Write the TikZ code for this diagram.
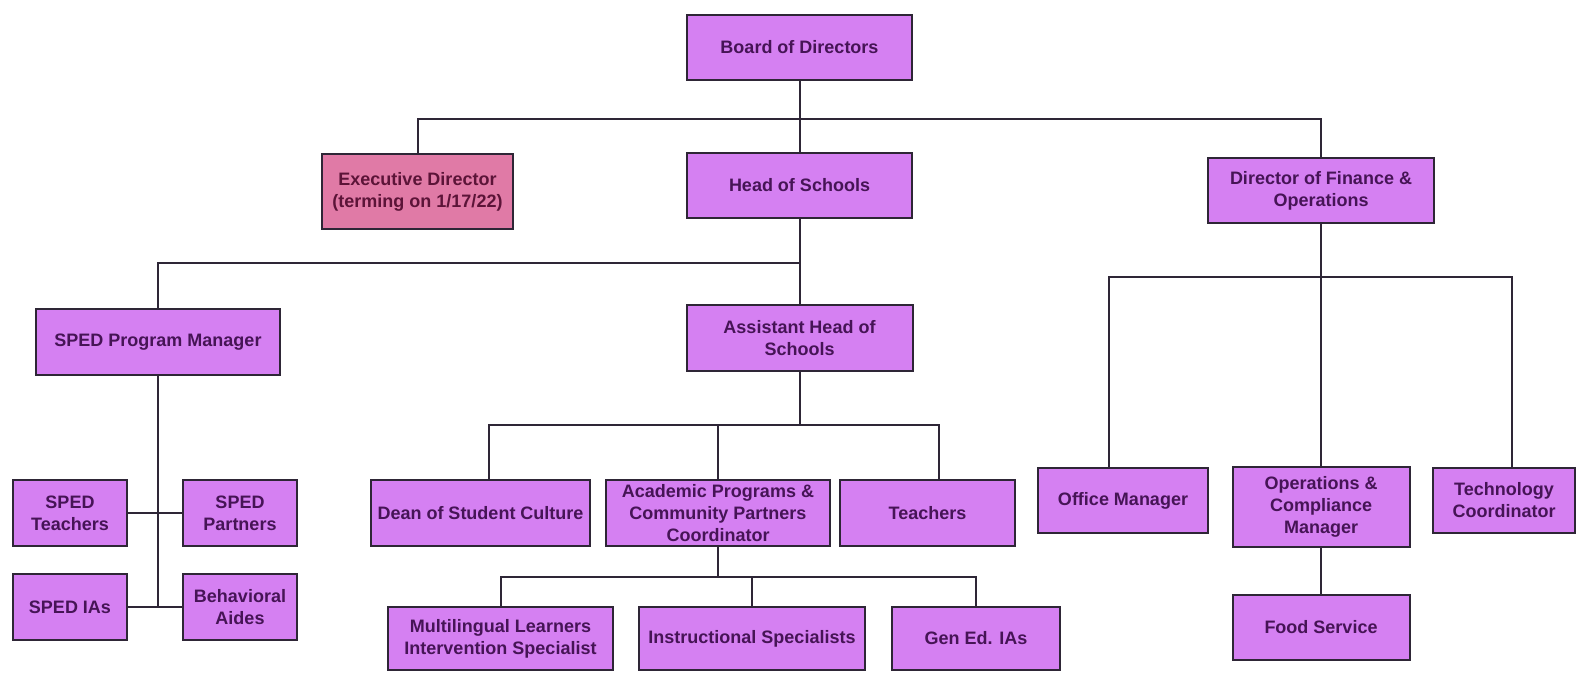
\documentclass[tikz,border=0pt]{standalone}
\usepackage{fontspec}
\setmainfont{Liberation Sans}
\definecolor{boxfill}{RGB}{213,128,242}
\definecolor{execfill}{RGB}{224,122,166}
\definecolor{boxtext}{RGB}{70,20,86}
\definecolor{exectext}{RGB}{92,20,56}
\definecolor{rule}{RGB}{46,38,54}
\begin{document}
\begin{tikzpicture}[x=1pt, y=-1pt,
  box/.style={draw=rule, line width=2, fill=boxfill, text=boxtext, align=center,
    font=\bfseries\fontsize{18}{22}\selectfont, inner sep=0pt, minimum height=65},
  link/.style={draw=rule, line width=2}]
\useasboundingbox (0,0) rectangle (1578,672);

\node[box, minimum width=225] (board) at (799.5,47) {Board of Directors};
\node[box, minimum width=191, minimum height=75, fill=execfill, text=exectext] (exec) at (417.5,191.5) {Executive Director\\(terming on 1/17/22)};
\node[box, minimum width=225] (head) at (799.5,185.5) {Head of Schools};
\node[box, minimum width=226] (dfo) at (1321,190.5) {Director of Finance \&\\Operations};

\node[box, minimum width=244, minimum height=66] (sped) at (158,342) {SPED Program Manager};
\node[box, minimum width=226, minimum height=66] (ahead) at (799.5,338) {Assistant Head of\\Schools};

\node[box, minimum width=114, minimum height=66] (spedT) at (70,513) {SPED\\Teachers};
\node[box, minimum width=114, minimum height=66] (spedP) at (240,513) {SPED\\Partners};
\node[box, minimum width=114, minimum height=66] (spedIA) at (70,607) {SPED IAs};
\node[box, minimum width=114, minimum height=66] (behav) at (240,607) {Behavioral\\Aides};

\node[box, minimum width=219, minimum height=66] (dean) at (480.5,513) {Dean of Student Culture};
\node[box, minimum width=224, minimum height=66] (acad) at (718,513) {Academic Programs \&\\Community Partners\\Coordinator};
\node[box, minimum width=175, minimum height=66] (teach) at (927.5,513) {Teachers};

\node[box, minimum width=225, minimum height=63] (multi) at (500.5,638.5) {Multilingual Learners\\Intervention Specialist};
\node[box, minimum width=226, minimum height=63] (instr) at (752,638.5) {Instructional Specialists};
\node[box, minimum width=168, minimum height=63] (gened) at (976,638.5) {Gen Ed. IAs};

\node[box, minimum width=170] (office) at (1123,500.5) {Office Manager};
\node[box, minimum width=177, minimum height=80] (ops) at (1321,507) {Operations \&\\Compliance\\Manager};
\node[box, minimum width=142] (tech) at (1504,500.5) {Technology\\Coordinator};
\node[box, minimum width=177] (food) at (1321,627.5) {Food Service};

\coordinate (top) at (799.5,119);
\coordinate (mid) at (799.5,263);
\coordinate (ahs) at (799.5,425);
\coordinate (acs) at (718,577);
\coordinate (fin) at (1321,277);

\draw[link] (board) -- (head);
\draw[link] (exec.north) |- (top) -| (dfo.north);
\draw[link] (head) -- (ahead);
\draw[link] (sped.north) |- (mid);
\draw[link] (sped.south) -- (sped.south |- spedIA.east);
\draw[link] (spedT) -- (spedP);
\draw[link] (spedIA) -- (behav);

\draw[link] (ahead.south) -- (ahs);
\draw[link] (ahs) -| ([xshift=8]dean.north);
\draw[link] (ahs) -| (acad.north);
\draw[link] (ahs) -| ([xshift=11]teach.north);
\draw[link] (acad.south) -- (acs);
\foreach \n in {multi,instr,gened}
{
   \draw[link] (acs) -| (\n.north);
}

\draw[link] (dfo) -- (ops);
\draw[link] (fin) -| ([xshift=-14]office.north);
\draw[link] (fin) -| ([xshift=8]tech.north);
\draw[link] (ops) -- (food);
\end{tikzpicture}
\end{document}
